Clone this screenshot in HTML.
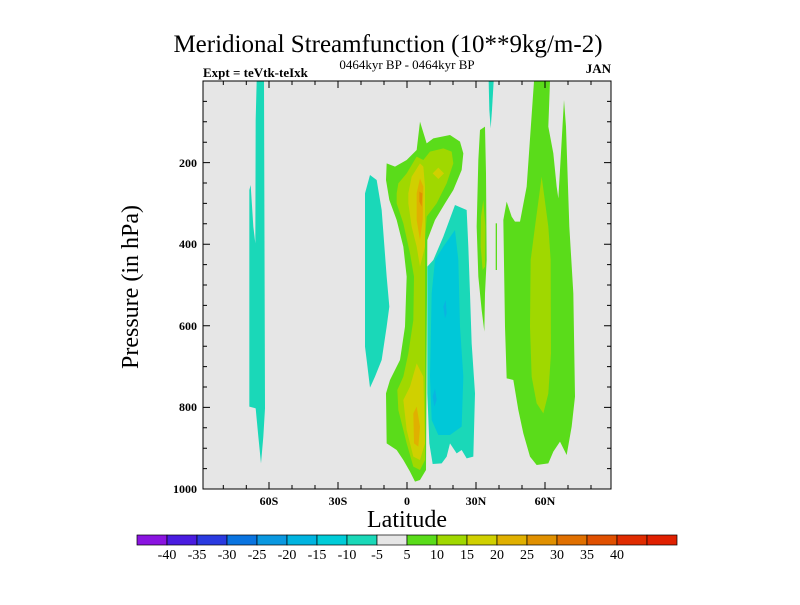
<!DOCTYPE html>
<html><head><meta charset="utf-8"><style>
html,body{margin:0;padding:0;background:#fff;}
svg text{font-family:"Liberation Serif",serif;fill:#000;}
</style></head><body>
<svg width="800" height="600" viewBox="0 0 800 600" xmlns="http://www.w3.org/2000/svg">
<rect x="203" y="81" width="408" height="408" fill="#e6e6e6"/>
<g transform="translate(190 60) scale(0.33333)">
<polygon fill="#1ad8b8" points="200,64 222,64 225,1045 220,1130 213,1210 205,1130 197,1045 178,1040 178,390 182,375 190,500 196,550 197,180"/>
<polygon fill="#1ad8b8" points="525,400 540,345 560,360 575,450 590,650 598,740 590,800 575,900 555,950 540,983 530,900 525,860"/>
<polygon fill="#5adc1a" points="590,310 615,320 650,300 680,270 690,185 710,250 730,235 780,225 810,245 820,280 815,330 790,390 765,430 735,480 712,540 708,1230 690,1260 675,1265 660,1235 640,1200 620,1170 590,1150 588,1000 600,960 630,900 645,800 650,650 640,560 620,480 598,420 588,360"/>
<polygon fill="#a0d800" points="620,400 625,370 650,340 680,290 700,300 720,275 760,265 785,275 790,310 770,370 740,430 710,470 705,540 705,1200 690,1230 670,1220 650,1150 625,1050 622,990 640,950 655,880 670,780 672,650 660,580 640,490 620,430"/>
<polygon fill="#d0d000" points="655,400 665,350 690,310 700,320 705,380 705,560 690,620 680,560 665,500 655,430"/>
<polygon fill="#d0d000" points="640,1020 660,980 680,910 700,950 705,1150 690,1200 670,1190 650,1110"/>
<polygon fill="#d0d000" points="728,340 745,323 762,340 745,357"/>
<polygon fill="#e0b000" points="680,400 690,355 700,380 698,480 690,540 680,480"/>
<polygon fill="#e0b000" points="670,1060 680,1040 690,1100 685,1160 672,1150"/>
<polygon fill="#e09000" points="688,395 697,400 695,440 688,425"/>
<polygon fill="#1ad8b8" points="712,620 730,600 760,530 795,435 830,450 835,560 840,700 845,850 855,1000 850,1190 830,1195 815,1170 800,1180 780,1150 770,1190 755,1210 728,1212 718,1150 712,1000"/>
<polygon fill="#00c8d8" points="725,700 735,600 760,560 795,510 805,600 810,800 820,950 815,1100 780,1125 745,1125 725,1080 720,950"/>
<polygon fill="#0ab4e0" points="760,740 767,720 770,760 765,775"/>
<polygon fill="#0ab4e0" points="728,1010 735,985 740,1020 733,1040"/>
<polygon fill="#5adc1a" points="870,210 885,200 888,340 890,600 885,700 883,815 875,750 865,650 860,500 865,300"/>
<polygon fill="#a0d800" points="873,470 880,420 886,500 885,620 878,630 872,560"/>
<polygon fill="#5adc1a" points="917,490 921,490 921,630 917,630"/>
<polygon fill="#1ad8b8" points="896,64 911,64 906,150 902,205 898,150"/>
<polygon fill="#5adc1a" points="1032,64 1080,64 1075,200 1090,280 1100,380 1105,415 1110,330 1122,120 1128,200 1138,500 1150,700 1155,1010 1145,1100 1130,1185 1110,1145 1090,1175 1075,1210 1040,1215 1020,1190 1000,1120 985,1050 970,960 950,955 945,800 940,480 950,425 965,470 975,485 990,485 1010,380"/>
<polygon fill="#a0d800" points="1022,600 1035,500 1055,350 1075,500 1082,600 1083,880 1075,1000 1060,1060 1040,1030 1025,950 1020,800"/>
</g>
<rect x="203" y="81" width="408" height="408" fill="none" stroke="#000" stroke-width="1"/>
<g stroke="#000" stroke-width="1">
<path d="M223.3,489v-4M246.3,489v-4M269,489v-7M292,489v-4M315,489v-4M338,489v-7M361,489v-4M384,489v-4M407,489v-7M430,489v-4M453,489v-4M476,489v-7M499,489v-4M522,489v-4M545,489v-7M568,489v-4M591,489v-4"/>
<path d="M223.3,81v4M246.3,81v4M269,81v7M292,81v4M315,81v4M338,81v7M361,81v4M384,81v4M407,81v7M430,81v4M453,81v4M476,81v7M499,81v4M522,81v4M545,81v7M568,81v4M591,81v4"/>
<path d="M203,101.4h4M203,121.8h4M203,142.2h4M203,162.6h7M203,183h4M203,203.4h4M203,223.8h4M203,244.2h7M203,264.6h4M203,285h4M203,305.4h4M203,325.8h7M203,346.2h4M203,366.6h4M203,387h4M203,407.4h7M203,427.8h4M203,448.2h4M203,468.6h4"/>
<path d="M611,101.4h-4M611,121.8h-4M611,142.2h-4M611,162.6h-7M611,183h-4M611,203.4h-4M611,223.8h-4M611,244.2h-7M611,264.6h-4M611,285h-4M611,305.4h-4M611,325.8h-7M611,346.2h-4M611,366.6h-4M611,387h-4M611,407.4h-7M611,427.8h-4M611,448.2h-4M611,468.6h-4"/>
</g>
<g font-size="12" font-weight="bold" text-anchor="middle">
<text x="269" y="505">60S</text><text x="338" y="505">30S</text><text x="407" y="505">0</text><text x="476" y="505">30N</text><text x="545" y="505">60N</text>
</g>
<g font-size="12" font-weight="bold" text-anchor="end">
<text x="197" y="167">200</text><text x="197" y="248">400</text><text x="197" y="330">600</text><text x="197" y="411">800</text><text x="197" y="493">1000</text>
</g>
<text x="388" y="52" font-size="25" text-anchor="middle">Meridional Streamfunction (10**9kg/m-2)</text>
<text x="407" y="69" font-size="13" text-anchor="middle">0464kyr BP - 0464kyr BP</text>
<text x="203" y="77" font-size="13" font-weight="bold">Expt = teVtk-teIxk</text>
<text x="611" y="73" font-size="13" font-weight="bold" text-anchor="end">JAN</text>
<text x="407" y="527" font-size="24" text-anchor="middle">Latitude</text>
<text transform="translate(138 287) rotate(-90)" font-size="24" text-anchor="middle">Pressure (in hPa)</text>
<g stroke="#000" stroke-width="0.7">
<rect x="137" y="535" width="30" height="10" fill="#8a14e0"/>
<rect x="167" y="535" width="30" height="10" fill="#4a1ce0"/>
<rect x="197" y="535" width="30" height="10" fill="#2a3ae0"/>
<rect x="227" y="535" width="30" height="10" fill="#0a74e0"/>
<rect x="257" y="535" width="30" height="10" fill="#0a98e0"/>
<rect x="287" y="535" width="30" height="10" fill="#00b4e0"/>
<rect x="317" y="535" width="30" height="10" fill="#00ccd8"/>
<rect x="347" y="535" width="30" height="10" fill="#1ad8b8"/>
<rect x="377" y="535" width="30" height="10" fill="#e6e6e6"/>
<rect x="407" y="535" width="30" height="10" fill="#5adc1a"/>
<rect x="437" y="535" width="30" height="10" fill="#a0d800"/>
<rect x="467" y="535" width="30" height="10" fill="#d0d000"/>
<rect x="497" y="535" width="30" height="10" fill="#e0b000"/>
<rect x="527" y="535" width="30" height="10" fill="#e09000"/>
<rect x="557" y="535" width="30" height="10" fill="#e07000"/>
<rect x="587" y="535" width="30" height="10" fill="#e05000"/>
<rect x="617" y="535" width="30" height="10" fill="#e02c00"/>
<rect x="647" y="535" width="30" height="10" fill="#e02000"/>
</g>
<g font-size="14" text-anchor="middle">
<text x="167" y="559">-40</text><text x="197" y="559">-35</text><text x="227" y="559">-30</text><text x="257" y="559">-25</text><text x="287" y="559">-20</text><text x="317" y="559">-15</text><text x="347" y="559">-10</text><text x="377" y="559">-5</text><text x="407" y="559">5</text><text x="437" y="559">10</text><text x="467" y="559">15</text><text x="497" y="559">20</text><text x="527" y="559">25</text><text x="557" y="559">30</text><text x="587" y="559">35</text><text x="617" y="559">40</text>
</g>
</svg>
</body></html>
